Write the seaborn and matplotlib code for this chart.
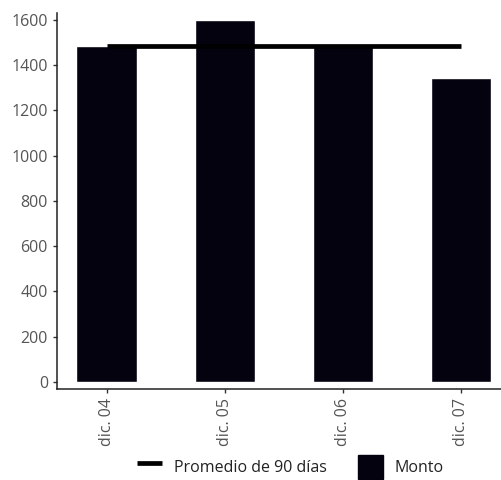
import matplotlib
matplotlib.use('Agg')
import matplotlib.pyplot as plt
import matplotlib.lines as mlines
import matplotlib.patches as mpatches
import pandas as pd
import seaborn as sns

fechas = ['dic. 04', 'dic. 05', 'dic. 06', 'dic. 07']
monto = [1485, 1600, 1495, 1343]
promedio_90 = [1485, 1485, 1485, 1485]

sns.set_style('ticks')
plt.rcParams['font.family'] = ['Open Sans', 'DejaVu Sans']

df = pd.DataFrame({'fecha': fechas, 'monto': monto, 'promedio': promedio_90})

fig = plt.figure(figsize=(5.02, 4.8), dpi=100)
ax = fig.add_axes([0.1135, 0.1896, 0.904, 0.7834])

bar_color = '#04020f'
sns.barplot(data=df, x='fecha', y='monto', color=bar_color, width=0.51,
            saturation=1, ax=ax)
sns.lineplot(x=range(len(fechas)), y=df['promedio'], color='black',
             linewidth=3.4, solid_capstyle='butt', ax=ax)

ax.set_xlim(-0.42, 3.42)
ax.set_ylim(-31, 1630)
ax.set_yticks(range(0, 1601, 200))
ax.set_xlabel('')
ax.set_ylabel('')
sns.despine(ax=ax)
for s in ['left', 'bottom']:
    ax.spines[s].set_color('#222222')
    ax.spines[s].set_linewidth(1.1)
ax.tick_params(axis='both', colors='#333333', labelcolor='#555555',
               labelsize=11.5, length=3, width=1, direction='out',
               bottom=True, left=True)
ax.tick_params(axis='x', labelrotation=90)

h_line = mlines.Line2D([], [], color='black', linewidth=3.4, solid_capstyle='butt')
h_bar = mpatches.Patch(color=bar_color)
fig.legend([h_line, h_bar], ['Promedio de 90 días', 'Monto'],
           loc='lower center', bbox_to_anchor=(0.578, -0.027), ncol=2,
           frameon=False, fontsize=11.5, handlelength=1.6, handleheight=1.9,
           columnspacing=1.95, handletextpad=0.7, labelcolor='#222222')

fig.savefig('out.png', dpi=100)
